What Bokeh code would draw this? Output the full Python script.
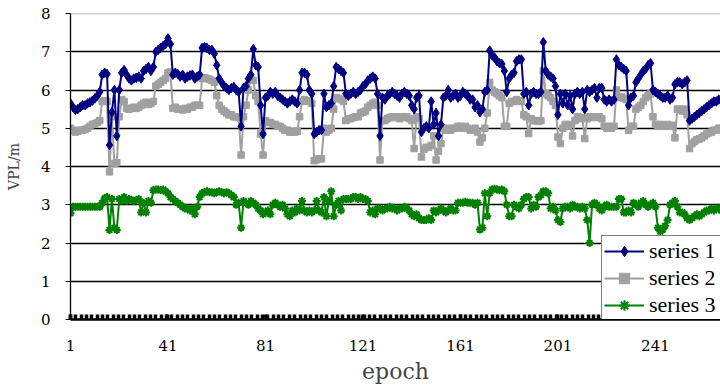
import numpy as np
from bokeh.plotting import figure
from bokeh.models import Range1d, FixedTicker, Span, Legend, LegendItem, ColumnDataSource
from bokeh.embed import file_html
from bokeh.resources import INLINE

# ---------------- data ----------------
series1 = [
    5.65, 5.55, 5.48, 5.5, 5.55, 5.6, 5.6, 5.65, 5.68, 5.72,
    5.78, 5.85, 5.95, 6.4, 6.45, 6.42, 4.56, 5.42, 6.0, 4.8,
    6.0, 6.45, 6.52, 6.4, 6.3, 6.25, 6.3, 6.32, 6.35, 6.3,
    6.5, 6.55, 6.6, 6.5, 6.6, 7.0, 7.05, 7.1, 7.15, 7.2,
    7.35, 7.2, 6.4, 6.45, 6.42, 6.35, 6.4, 6.3, 6.35, 6.38,
    6.4, 6.3, 6.35, 6.4, 7.1, 7.12, 7.1, 7.05, 7.05, 6.95,
    6.65, 6.3, 6.2, 6.1, 6.05, 6.0, 6.05, 6.08, 6.0, 5.95,
    5.05, 6.05, 6.1, 6.3, 6.4, 7.07, 6.65, 6.6, 5.6, 4.85,
    5.8, 5.85, 5.95, 5.9, 5.95, 5.85, 5.8, 5.75, 5.7, 5.65,
    5.7, 5.75, 5.7, 5.65, 6.0, 6.45, 6.45, 6.4, 6.0, 5.9,
    4.85, 4.9, 4.95, 4.95, 5.9, 5.55, 5.6, 5.65, 6.1, 6.6,
    6.55, 6.5, 6.45, 5.9, 5.85, 5.9, 5.95, 5.9, 5.95, 6.0,
    6.1, 6.15, 6.25, 6.3, 6.35, 6.3, 5.9, 4.8, 5.8, 5.75,
    5.85, 5.9, 5.95, 5.9, 5.85, 5.8, 5.9, 5.95, 5.9, 5.85,
    5.6, 5.5, 5.8, 5.85, 4.9, 5.0, 5.05, 5.0, 5.7, 5.1,
    5.4, 4.8, 5.1, 5.8, 5.85, 6.0, 5.8, 5.85, 5.9, 5.8,
    5.85, 5.95, 5.9, 5.85, 5.75, 5.75, 5.55, 5.6, 5.42, 5.5,
    5.95, 6.0, 7.03, 6.9, 6.85, 6.75, 6.7, 6.68, 6.5, 5.95,
    6.3, 6.4, 6.45, 6.75, 6.8, 6.8, 5.9, 5.95, 5.6, 5.9,
    5.95, 5.9, 5.9, 5.95, 7.25, 6.5, 6.4, 6.35, 6.3, 6.1,
    5.35, 5.9, 5.65, 5.9, 5.6, 5.85, 5.5, 5.9, 5.95, 5.9,
    5.95, 5.5, 6.0, 5.95, 6.0, 6.05, 5.8, 6.05, 6.05, 5.75,
    5.7, 5.75, 5.7, 5.75, 6.8, 6.65, 6.6, 6.55, 6.5, 5.6,
    5.8, 5.85, 6.2, 6.3, 6.4, 6.5, 6.55, 6.65, 6.7, 6.0,
    5.95, 5.9, 5.85, 5.8, 5.8, 5.85, 5.75, 5.8, 6.15, 6.2,
    6.2, 6.15, 6.2, 6.25, 5.2, 5.25, 5.3, 5.35, 5.4, 5.45,
    5.5, 5.55, 5.6, 5.65, 5.7, 5.7, 5.75, 5.75, 5.8, 5.75,
]
series2 = [
    5.0, 4.95, 4.9, 4.92, 4.95, 4.95, 4.97, 5.0, 5.05, 5.1,
    5.12, 5.15, 5.2, 5.7, 5.72, 5.7, 3.86, 5.3, 4.08, 4.1,
    5.3, 5.75, 5.7, 5.52, 5.5, 5.52, 5.55, 5.52, 5.55, 5.6,
    5.65, 5.68, 5.62, 5.65, 5.7, 6.1, 6.15, 6.2, 6.25, 6.3,
    6.45, 6.47, 5.52, 5.55, 5.5, 5.5, 5.48, 5.52, 5.5, 5.55,
    5.55, 5.6, 5.6, 5.6, 6.3, 6.32, 6.3, 6.28, 6.25, 6.2,
    5.85, 5.6, 5.5, 5.45, 5.4, 5.35, 5.35, 5.3, 5.3, 5.28,
    4.3, 5.3, 5.6, 6.0, 6.3, 6.25, 5.85, 5.7, 4.85, 4.3,
    5.2, 5.15, 5.15, 5.1, 5.1, 5.05, 5.05, 5.0, 4.95, 4.95,
    4.9, 4.9, 4.9, 4.92, 5.3, 5.7, 5.75, 5.72, 5.7, 5.65,
    4.15, 4.18, 4.2, 4.2, 5.0, 4.9, 4.95, 5.0, 5.5, 5.8,
    5.78, 5.75, 5.7, 5.2, 5.25, 5.25, 5.28, 5.3, 5.3, 5.4,
    5.42, 5.45, 5.55, 5.6, 5.65, 5.68, 5.6, 4.17, 5.2, 5.2,
    5.25, 5.28, 5.3, 5.28, 5.3, 5.25, 5.28, 5.3, 5.3, 5.25,
    5.2, 4.47, 5.3, 5.25, 4.25, 4.45, 4.5, 4.5, 4.55, 4.8,
    4.17, 4.4, 4.6, 5.0, 4.95, 5.0, 4.95, 5.0, 5.0, 5.05,
    5.05, 5.0, 5.05, 5.0, 4.95, 4.95, 5.0, 4.9, 4.64, 4.75,
    5.0, 5.4, 6.2, 6.0, 5.95, 5.9, 5.85, 5.8, 5.05, 5.05,
    5.65, 5.7, 5.7, 5.75, 5.72, 5.7, 5.35, 5.3, 4.86, 5.25,
    5.2, 5.2, 5.18, 5.2, 6.5, 5.9, 5.85, 5.8, 5.7, 5.6,
    4.77, 4.6, 5.0, 5.1, 5.05, 5.1, 4.8, 5.2, 5.3, 5.25,
    5.28, 4.73, 5.25, 5.3, 5.3, 5.28, 5.3, 5.3, 5.25, 5.05,
    5.0, 5.05, 5.0, 5.05, 6.0, 5.8, 5.82, 5.78, 5.75, 4.95,
    5.05, 5.05, 5.5, 5.55, 5.6, 5.7, 5.8, 5.85, 5.9, 5.3,
    5.1, 5.05, 5.1, 5.08, 5.05, 5.1, 5.05, 5.08, 4.75, 5.5,
    5.5, 5.45, 5.5, 5.35, 4.47, 4.6, 4.65, 4.7, 4.72, 4.75,
    4.8, 4.85, 4.88, 4.9, 4.95, 4.95, 5.0, 5.0, 5.05, 5.05,
]
series3 = [
    2.78, 2.95, 2.95, 2.95, 2.95, 2.95, 2.95, 2.95, 2.95, 2.95,
    2.95, 2.95, 2.95, 3.05, 3.17, 3.2, 2.34, 3.15, 2.4, 2.34,
    3.15, 3.1, 3.2, 3.1, 3.15, 3.12, 3.1, 3.12, 3.15, 2.8,
    3.05, 2.8, 3.1, 3.05, 3.38, 3.4, 3.4, 3.38, 3.4, 3.35,
    3.3, 3.2, 3.15, 3.1, 3.05, 3.0, 2.95, 2.9, 2.9, 2.85,
    2.9, 2.75, 2.95, 3.2, 3.3, 3.33, 3.35, 3.33, 3.33, 3.3,
    3.33, 3.35, 3.33, 3.3, 3.33, 3.3, 3.25, 3.2, 3.0, 3.05,
    2.4, 3.1, 3.05, 3.0, 3.1, 3.05, 3.0, 2.9, 2.85, 2.75,
    2.8, 2.85, 2.75, 3.0, 3.05, 3.0, 2.95, 3.0, 2.9, 2.75,
    2.7, 2.85, 2.8, 2.9, 2.85, 3.1, 2.85, 2.8, 2.85, 2.8,
    2.85, 3.1, 2.85, 2.8, 3.2, 2.7, 3.1, 3.35, 2.7, 3.0,
    3.1, 2.85, 3.15, 3.15, 3.15, 3.15, 3.2, 3.2, 3.15, 3.2,
    3.15, 3.15, 3.1, 2.8, 2.85, 2.75, 2.9, 2.9, 2.85, 2.9,
    2.9, 2.95, 2.9, 2.9, 2.85, 2.9, 2.9, 2.95, 2.9, 2.85,
    2.75, 2.7, 2.75, 2.65, 2.6, 2.6, 2.6, 2.65, 2.6, 2.85,
    2.8, 2.85, 2.9, 2.85, 2.8, 2.85, 2.9, 2.85, 2.85, 3.05,
    3.05, 3.05, 3.08, 3.05, 3.05, 3.05, 3.0, 3.05, 2.35, 2.4,
    3.3, 2.7, 3.3, 3.4, 3.42, 3.4, 3.38, 3.4, 3.35, 3.0,
    2.7, 2.7, 3.0, 2.95, 2.9, 3.0, 3.15, 3.2, 3.2, 2.9,
    3.0, 2.95, 3.2, 3.25, 3.35, 3.35, 3.3, 2.9, 2.95, 2.85,
    2.6, 2.55, 2.9, 2.95, 2.95, 2.9, 3.0, 2.95, 2.95, 2.9,
    2.95, 2.9, 2.6, 2.0, 3.0, 3.05, 3.0, 2.9, 2.85, 2.95,
    3.0, 2.95, 2.95, 2.95, 2.95, 3.15, 3.15, 2.8, 2.8, 2.85,
    2.8, 3.05, 3.0, 2.95, 3.05, 3.1, 3.0, 2.95, 3.0, 3.05,
    2.95, 2.4, 2.3, 2.35, 2.45, 2.6, 3.0, 3.05, 3.1, 2.95,
    2.8, 2.8, 2.75, 2.65, 2.6, 2.65, 2.7, 2.75, 2.7, 2.75,
    2.8, 2.85, 2.85, 2.9, 2.85, 2.9, 2.9, 2.85, 2.9, 2.85,
]
epochs = list(range(1, len(series1) + 1))
series_names = ["series 1", "series 2", "series 3"]
x_ticks = [1, 41, 81, 121, 161, 201, 241]
y_ticks = [0, 1, 2, 3, 4, 5, 6, 7, 8]
x_label = "epoch"
y_label = "VPL/m"

# ---------------- figure ----------------
FONT = "DejaVu Serif"
LFONT = "Liberation Serif"
p = figure(width=720, height=386, output_backend="svg", toolbar_location=None,
           x_range=Range1d(1, 267.7), y_range=Range1d(0, 8),
           min_border_left=70, min_border_right=0, min_border_top=13,
           min_border_bottom=66)
p.outline_line_color = None
p.background_fill_color = "white"
p.border_fill_color = "white"

src = ColumnDataSource(dict(x=epochs, s1=series1, s2=series2, s3=series3))

r2l = p.line("x", "s2", source=src, line_color="#A0A0A0", line_width=2)
r2m = p.scatter("x", "s2", source=src, marker="square", size=6.5,
                fill_color="#A0A0A0", line_color="#A0A0A0")
r1l = p.line("x", "s1", source=src, line_color="#000080", line_width=2)
r1m = p.scatter("x", "s1", source=src, marker="diamond", size=9.5,
                fill_color="#000080", line_color="#000080")
r3l = p.line("x", "s3", source=src, line_color="#008000", line_width=2)
r3m = p.scatter("x", "s3", source=src, marker="asterisk", size=8,
                line_color="#008000", line_width=2)

# grid
p.xgrid.visible = False
p.ygrid.ticker = FixedTicker(ticks=y_ticks[1:-1])
p.ygrid.grid_line_color = "black"
p.ygrid.grid_line_width = 1.3
p.add_layout(Span(location=8, dimension="width", line_color="#A0A0A0", line_width=1.5))

# x axis
xa = p.xaxis[0]
xa.ticker = FixedTicker(ticks=x_ticks, minor_ticks=list(np.arange(1, 270, 2.19)))
xa.axis_line_color = "black"
xa.axis_line_width = 2.5
xa.major_tick_in = 5
xa.major_tick_out = 0
xa.major_tick_line_width = 3.5
xa.minor_tick_in = 5
xa.minor_tick_out = 0
xa.minor_tick_line_width = 3.5
xa.minor_tick_line_color = "black"
xa.major_label_text_font = FONT
xa.major_label_text_font_size = "15px"
xa.major_label_text_color = "black"
xa.major_label_standoff = 20
xa.axis_label = x_label
xa.axis_label_text_font = FONT
xa.axis_label_text_font_style = "normal"
xa.axis_label_text_font_size = "22px"
xa.axis_label_standoff = 5

# y axis
ya = p.yaxis[0]
ya.ticker = FixedTicker(ticks=y_ticks)
ya.axis_line_color = "black"
ya.axis_line_width = 1.3
ya.major_tick_in = 0
ya.major_tick_out = 5
ya.minor_tick_line_color = None
ya.major_label_text_font = FONT
ya.major_label_text_font_size = "15px"
ya.major_label_text_color = "black"
ya.major_label_standoff = 15
ya.axis_label = y_label
ya.axis_label_text_font = FONT
ya.axis_label_text_font_style = "normal"
ya.axis_label_text_font_size = "14px"
ya.axis_label_standoff = 16

# legend
legend = Legend(items=[
    LegendItem(label=series_names[0], renderers=[r1l, r1m]),
    LegendItem(label=series_names[1], renderers=[r2l, r2m]),
    LegendItem(label=series_names[2], renderers=[r3l, r3m]),
], location=(531, -2))
legend.padding = 2
legend.spacing = 1
legend.margin = 0
legend.label_height = 26
legend.glyph_height = 26
legend.glyph_width = 40
legend.label_width = 85
legend.label_standoff = 5
legend.label_text_font = LFONT
legend.label_text_font_style = "normal"
legend.label_text_font_size = "22px"
legend.label_text_color = "black"
legend.border_line_color = "black"
legend.border_line_width = 1
legend.background_fill_color = "white"
legend.background_fill_alpha = 1
p.add_layout(legend)

open("out.html", "w").write(file_html(p, INLINE))
